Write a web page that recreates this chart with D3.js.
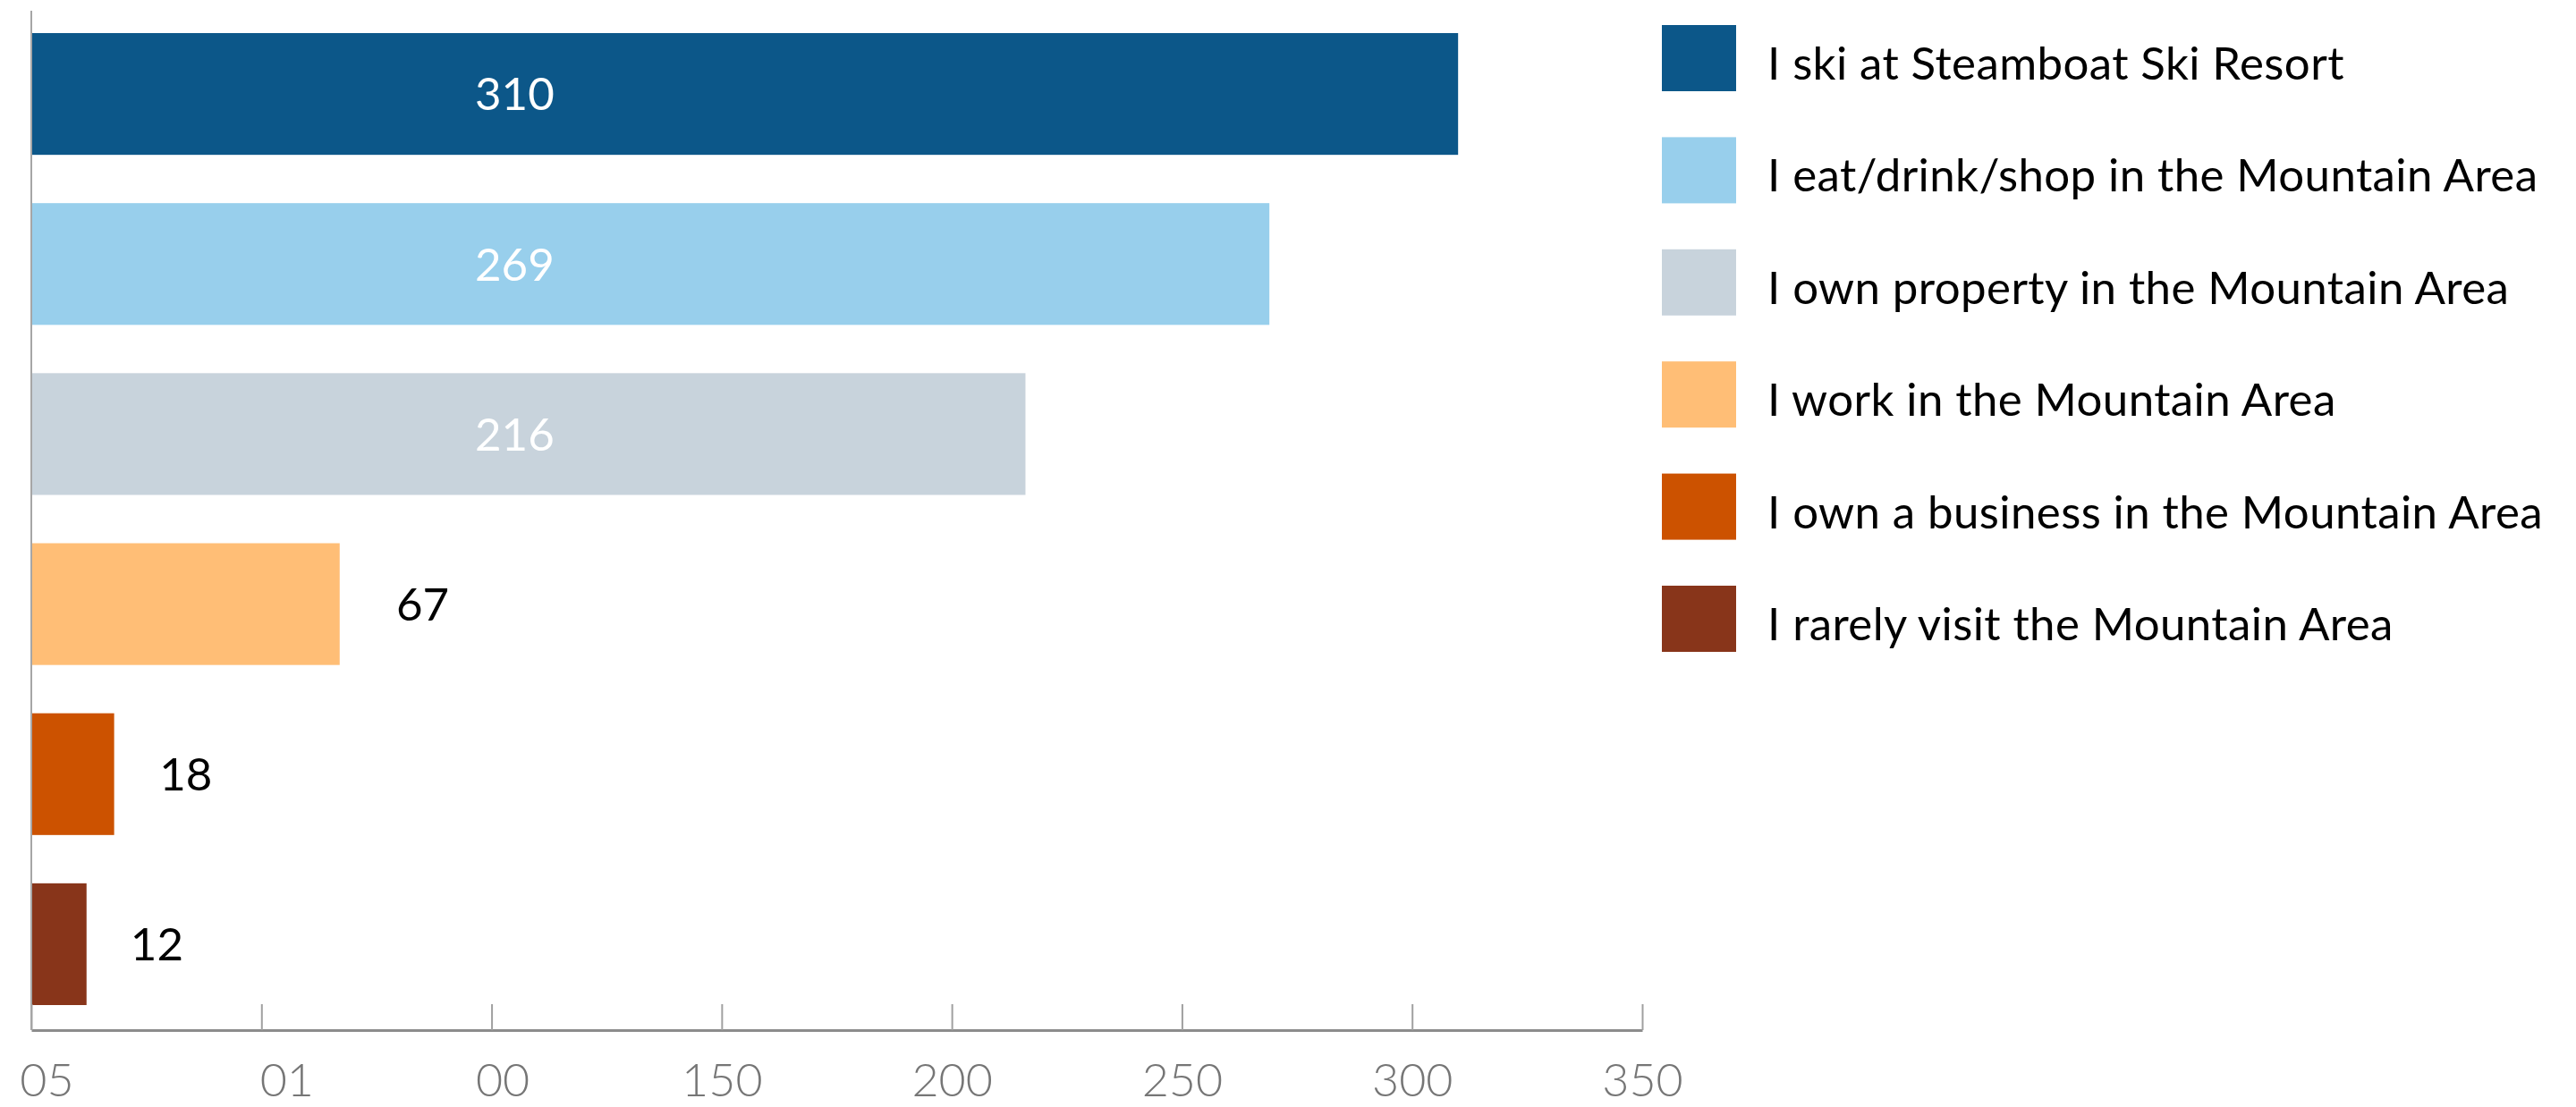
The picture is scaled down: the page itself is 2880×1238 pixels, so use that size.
<!DOCTYPE html>
<html>
<head>
<meta charset="utf-8">
<script src="https://cdn.jsdelivr.net/npm/d3@7"></script>
<style>
  html, body { margin: 0; padding: 0; background: #ffffff; }
  svg { display: block; }
</style>
</head>
<body>
<div id="chart"></div>
<script>
// ---- data ----
const categories = [
  "I ski at Steamboat Ski Resort",
  "I eat/drink/shop in the Mountain Area",
  "I own property in the Mountain Area",
  "I work in the Mountain Area",
  "I own a business in the Mountain Area",
  "I rarely visit the Mountain Area"
];
const values = [310, 269, 216, 67, 18, 12];
const colors = ["#0c5789", "#98cfec", "#c8d3dc", "#ffbe76", "#cc5200", "#88351a"];
const tickValues = [0, 50, 100, 150, 200, 250, 300, 350];
const tickLabels = ["05", "01", "00", "150", "200", "250", "300", "350"];

// ---- layout ----
const W = 2880, H = 1238;
const svg = d3.select("#chart").append("svg").attr("width", W).attr("height", H);

const x = d3.scaleLinear().domain([0, 350]).range([35, 1836]);
const y = d3.scaleBand().domain(categories).range([10, 1151])
  .paddingInner(0.284).paddingOuter(0.142);

const FONT = "Lato, 'Open Sans', sans-serif";

// bars
svg.append("g").selectAll("rect").data(categories).join("rect")
  .attr("x", x(0))
  .attr("y", d => y(d))
  .attr("width", (d, i) => x(values[i]) - x(0))
  .attr("height", y.bandwidth())
  .attr("fill", (d, i) => colors[i]);

// value labels
svg.append("g").selectAll("text").data(categories).join("text")
  .attr("x", (d, i) => values[i] > 100 ? 531 : x(values[i]) + 46 + 0.05 * (x(values[i]) - x(0)))
  .attr("y", d => y(d) + y.bandwidth() / 2)
  .attr("dy", "0.36em")
  .attr("font-family", FONT)
  .attr("font-size", 51)
  .attr("fill", (d, i) => values[i] > 100 ? "#ffffff" : "#000000")
  .text((d, i) => values[i]);

// x axis
const labelDx = {"05": 17, "01": 28, "00": 12};
const xAxis = d3.axisBottom(x).tickValues(tickValues)
  .tickFormat((d, i) => tickLabels[i])
  .tickSizeInner(-29).tickSizeOuter(0);
const gx = svg.append("g").attr("transform", "translate(0,1152)").call(xAxis);
gx.select(".domain").attr("stroke", "#8c8c8c").attr("stroke-width", 3);
gx.selectAll(".tick line").attr("stroke", "#a0a0a0").attr("stroke-width", 2);
gx.selectAll(".tick text")
  .attr("y", 74).attr("dy", 0)
  .attr("dx", function() { return labelDx[this.textContent] || 0; })
  .attr("font-family", FONT)
  .attr("font-weight", 300)
  .attr("font-size", 52)
  .attr("fill", "#767676");

// y axis line
svg.append("line")
  .attr("x1", x(0)).attr("x2", x(0))
  .attr("y1", 12).attr("y2", 1152)
  .attr("stroke", "#a6a6a6").attr("stroke-width", 2);

// legend
const lg = svg.append("g").attr("transform", "translate(1858,28)");
const items = lg.selectAll("g").data(categories).join("g")
  .attr("transform", (d, i) => `translate(0,${i * 125.4})`);
items.append("rect")
  .attr("width", 83).attr("height", 74)
  .attr("fill", (d, i) => colors[i]);
items.append("text")
  .attr("x", 118).attr("y", 61)
  .attr("font-family", FONT)
  .attr("font-size", 51)
  .attr("letter-spacing", 0.4)
  .attr("fill", "#000000")
  .text(d => d);
</script>
</body>
</html>
